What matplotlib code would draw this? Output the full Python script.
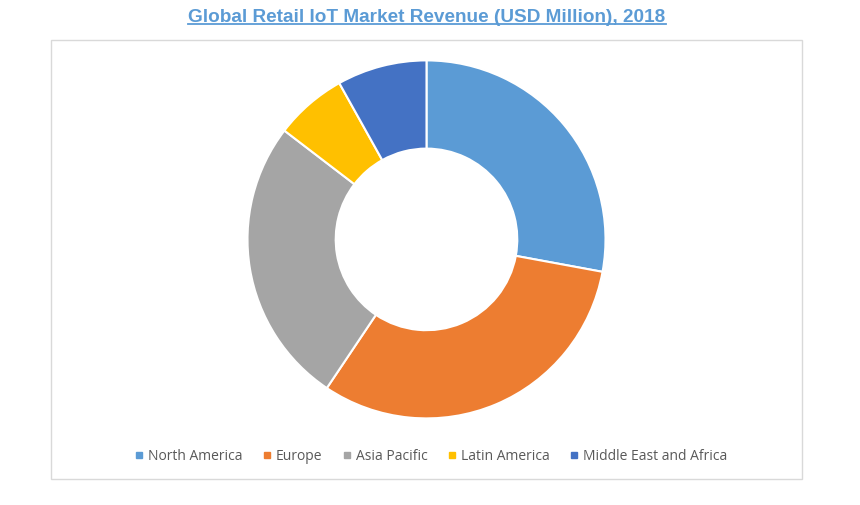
import matplotlib
matplotlib.use("Agg")
import matplotlib.pyplot as plt
from matplotlib.lines import Line2D
from matplotlib.patches import Rectangle

regions = ["North America", "Europe", "Asia Pacific", "Latin America", "Middle East and Africa"]
shares = [27.9, 31.5, 26.0, 6.5, 8.1]
colors = ["#5B9BD5", "#ED7D31", "#A5A5A5", "#FFC000", "#4472C4"]
title = "Global Retail IoT Market Revenue (USD Million), 2018"

W, H = 860, 506
fig = plt.figure(figsize=(W / 100, H / 100), dpi=100)

# chart frame
fig.patches.append(Rectangle((51 / W, 1 - 480 / H), 751 / W, 439 / H,
                             transform=fig.transFigure, fill=False,
                             edgecolor="#D9D9D9", linewidth=1))

# donut
cx, cy, r = 426.5, 240.4, 180
ax = fig.add_axes([(cx - r) / W, (H - cy - r) / H, 2 * r / W, 2 * r / H])
ax.pie(shares, colors=colors, startangle=90, counterclock=False,
       radius=179 / 180,
       wedgeprops=dict(width=0.49, edgecolor="white", linewidth=1.5))
ax.set_xlim(-1, 1)
ax.set_ylim(-1, 1)
ax.set_aspect("equal")
ax.axis("off")

# title with underline
t = fig.text(427 / W, 1 - 17 / H, title, ha="center", va="center",
             fontsize=13.7, fontweight="bold", color="#5B9BD5",
             family="Liberation Sans")
fig.canvas.draw()
bb = t.get_window_extent().transformed(fig.transFigure.inverted())
fig.add_artist(Line2D([bb.x0, bb.x1], [bb.y0 + 0.3 / H, bb.y0 + 0.3 / H],
                      transform=fig.transFigure, color="#5B9BD5", linewidth=1.3))

# legend
handles = [Line2D([], [], marker="s", linestyle="none", markersize=5,
                  markerfacecolor=c, markeredgecolor=c) for c in colors]
leg = fig.legend(handles, regions, loc="center", bbox_to_anchor=(431 / W, 1 - 457 / H),
                 ncol=5, frameon=False, handlelength=0.6, handletextpad=0.35,
                 columnspacing=1.45, prop=dict(family="Open Sans", size=10.0))
for txt in leg.get_texts():
    txt.set_color("#595959")

fig.savefig("out.png", dpi=100)
